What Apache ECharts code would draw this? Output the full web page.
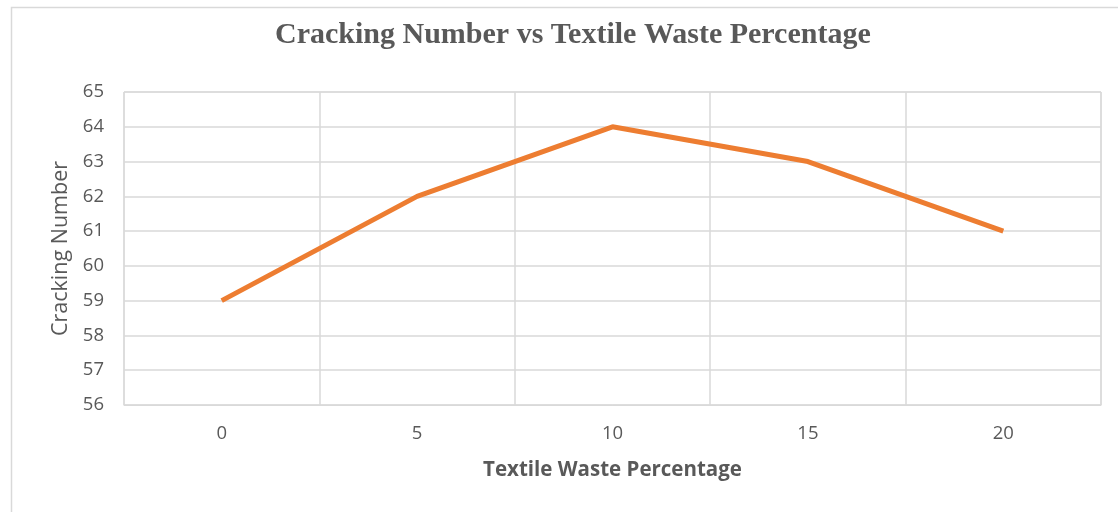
<!DOCTYPE html>
<html><head><meta charset="utf-8">
<script src="https://cdn.jsdelivr.net/npm/echarts@6/dist/echarts.min.js"></script>
<style>html,body{margin:0;padding:0;background:#fff}#c{width:1118px;height:512px}</style>
</head><body><div id="c"></div>
<script>
const categories = ['0','5','10','15','20'];
const crackingNumber = [59, 62, 64, 63, 61];
const chart = echarts.init(document.getElementById('c'));
chart.setOption({
  animation:false,
  backgroundColor:'#fff',
  graphic:[{type:'rect',shape:{x:11.5,y:7.5,width:1110,height:520},style:{fill:'none',stroke:'#d9d9d9',lineWidth:1.5},silent:true}],
  title:{text:'Cracking Number vs Textile Waste Percentage',left:270,top:15,
    textStyle:{fontFamily:'Liberation Serif',fontWeight:'bold',fontSize:30,color:'#595959'}},
  grid:{left:124,right:17,top:92,bottom:107,show:true,borderColor:'#d9d9d9',borderWidth:1},
  xAxis:{type:'category',data:categories,boundaryGap:true,
    name:'Textile Waste Percentage',nameLocation:'middle',nameGap:55,
    nameTextStyle:{fontFamily:'Open Sans',fontWeight:'bold',fontSize:20.5,color:'#595959'},
    axisLine:{show:true,lineStyle:{color:'#d9d9d9'}},axisTick:{show:false},
    axisLabel:{margin:19,fontFamily:'Open Sans',fontSize:18.5,color:'#595959'},
    splitLine:{show:true,lineStyle:{color:'#d9d9d9',width:1.5}}},
  yAxis:{type:'value',min:56,max:65,interval:1,
    name:'Cracking Number',nameLocation:'middle',nameGap:52,
    nameTextStyle:{fontFamily:'Open Sans',fontSize:21.5,color:'#595959'},
    axisLine:{show:false},axisTick:{show:false},
    axisLabel:{margin:20,fontFamily:'Open Sans',fontSize:18.5,color:'#595959'},
    splitLine:{show:true,lineStyle:{color:'#d9d9d9',width:1.5}}},
  series:[{type:'line',data:crackingNumber,symbol:'none',lineStyle:{color:'#ED7D31',width:5},itemStyle:{color:'#ED7D31'}}]
});
</script></body></html>
